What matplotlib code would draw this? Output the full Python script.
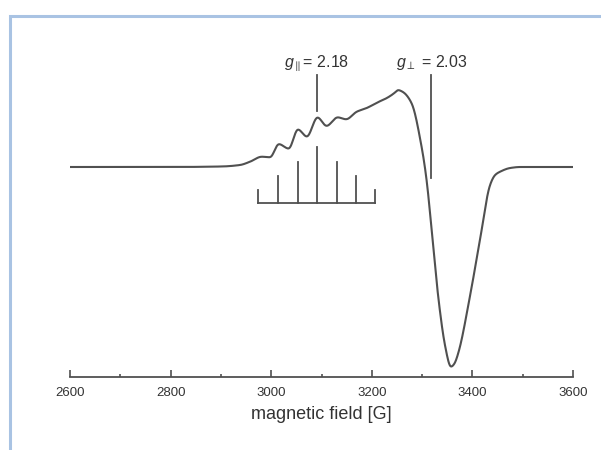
import matplotlib
matplotlib.use('Agg')

import matplotlib.pyplot as plt
from matplotlib.patches import Rectangle
import numpy as np

# EPR spectrum (field in G, signal in arbitrary units)
field = [2600, 2700, 2800, 2900, 2938, 2958, 2981, 2998, 3015, 3035, 3053, 3071,
         3092, 3110, 3132, 3149, 3170, 3190, 3210, 3230, 3245, 3252, 3262, 3279,
         3299, 3309, 3319, 3332, 3346, 3357, 3364, 3372, 3395, 3415, 3435, 3445,
         3455, 3475, 3495, 3550, 3600]
signal = [0, 0, 0, 0.5, 2, 5.3, 10.3, 9.7, 23, 18.3, 37.7, 30.3,
          49.7, 41, 49.7, 47.7, 55.3, 59, 64.3, 69, 74, 77, 75, 64,
          20.3, -13, -63, -129.7, -179.7, -200, -197, -186, -129.7, -73, -18, -8,
          -4.7, -1, 0, 0, 0]

# hyperfine stick diagram
stick_pos = [3014, 3053, 3092, 3130, 3169]
stick_top = [-9, 5, 20, 5, -9]
stick_base = -36
stick_ends = [2974, 3206]
end_top = -23

g_par_field = 3091
g_perp_field = 3318
g_labels = [r'$g_{\parallel}$= 2.18', r'$g_{\perp}$ = 2.03']

xticks = [2600, 2800, 3000, 3200, 3400, 3600]

plt.rcParams['font.family'] = ['Liberation Sans', 'DejaVu Sans']
plt.rcParams['mathtext.fontset'] = 'custom'
plt.rcParams['mathtext.it'] = 'Liberation Sans:italic'
plt.rcParams['mathtext.rm'] = 'Liberation Sans'

line_col = '#505050'

fig = plt.figure(figsize=(6.01, 4.5), dpi=100)
ax = fig.add_axes([70/601, 1-377/450, 503/601, 337/450])

# monotone cubic interpolation through the read points, then a light smoothing
def pchip(x, y, xn):
    h = np.diff(x)
    d = np.diff(y) / h
    m = np.zeros_like(y)
    for i in range(1, len(y) - 1):
        if d[i-1] * d[i] > 0:
            w1 = 2*h[i] + h[i-1]
            w2 = h[i] + 2*h[i-1]
            m[i] = (w1 + w2) / (w1/d[i-1] + w2/d[i])
    m[0] = d[0]
    m[-1] = d[-1]
    idx = np.clip(np.searchsorted(x, xn) - 1, 0, len(x) - 2)
    t = (xn - x[idx]) / h[idx]
    h00 = 2*t**3 - 3*t**2 + 1
    h10 = t**3 - 2*t**2 + t
    h01 = -2*t**3 + 3*t**2
    h11 = t**3 - t**2
    return h00*y[idx] + h10*h[idx]*m[idx] + h01*y[idx+1] + h11*h[idx]*m[idx+1]

xs = np.linspace(2600, 3600, 2001)
ys = pchip(np.array(field, float), np.array(signal, float), xs)
kern = np.exp(-0.5 * (np.arange(-12, 13) / 4.0) ** 2)
kern /= kern.sum()
ys_s = np.convolve(np.pad(ys, 12, mode='edge'), kern, mode='valid')
ax.plot(xs, ys_s, color=line_col, lw=1.5)

# stick diagram
ax.plot(stick_ends, [stick_base, stick_base], color=line_col, lw=1.3)
for xe in stick_ends:
    ax.plot([xe, xe], [stick_base, end_top], color=line_col, lw=1.3)
for xp, yt in zip(stick_pos, stick_top):
    ax.plot([xp, xp], [stick_base, yt], color=line_col, lw=1.3)

# g markers
ax.plot([g_par_field, g_par_field], [92, 56], color=line_col, lw=1.3)
ax.plot([g_perp_field, g_perp_field], [92, -11], color=line_col, lw=1.3)
ax.text(g_par_field, 104, g_labels[0], ha='center', va='center', fontsize=11.5, color='#333333')
ax.text(g_perp_field + 2, 104, g_labels[1], ha='center', va='center', fontsize=11.5, color='#333333')

ax.set_xlim(2600, 3600)
ax.set_ylim(-210, 127)
for sp in ['top', 'left', 'right']:
    ax.spines[sp].set_visible(False)
ax.spines['bottom'].set_color(line_col)
ax.spines['bottom'].set_linewidth(1.3)
ax.set_yticks([])
ax.set_xticks(xticks)
ax.set_xticks([2700, 2900, 3100, 3300, 3500], minor=True)
ax.tick_params(axis='x', which='major', direction='in', length=5, width=1.2,
               color=line_col, labelsize=9.5, labelcolor='#333333', pad=7)
ax.tick_params(axis='x', which='minor', direction='in', length=2.5, width=1.2, color=line_col)
ax.set_xlabel('magnetic field [G]', fontsize=13, color='#333333', labelpad=5)
ax.patch.set_visible(False)

# light blue frame around the picture
fig.patches.append(Rectangle((9.5/601, -0.1), 1.2, (450-15.5)/450 + 0.1,
                             transform=fig.transFigure, fill=False,
                             edgecolor='#a9c3e3', lw=2.2))

fig.savefig('out.png', dpi=100)
